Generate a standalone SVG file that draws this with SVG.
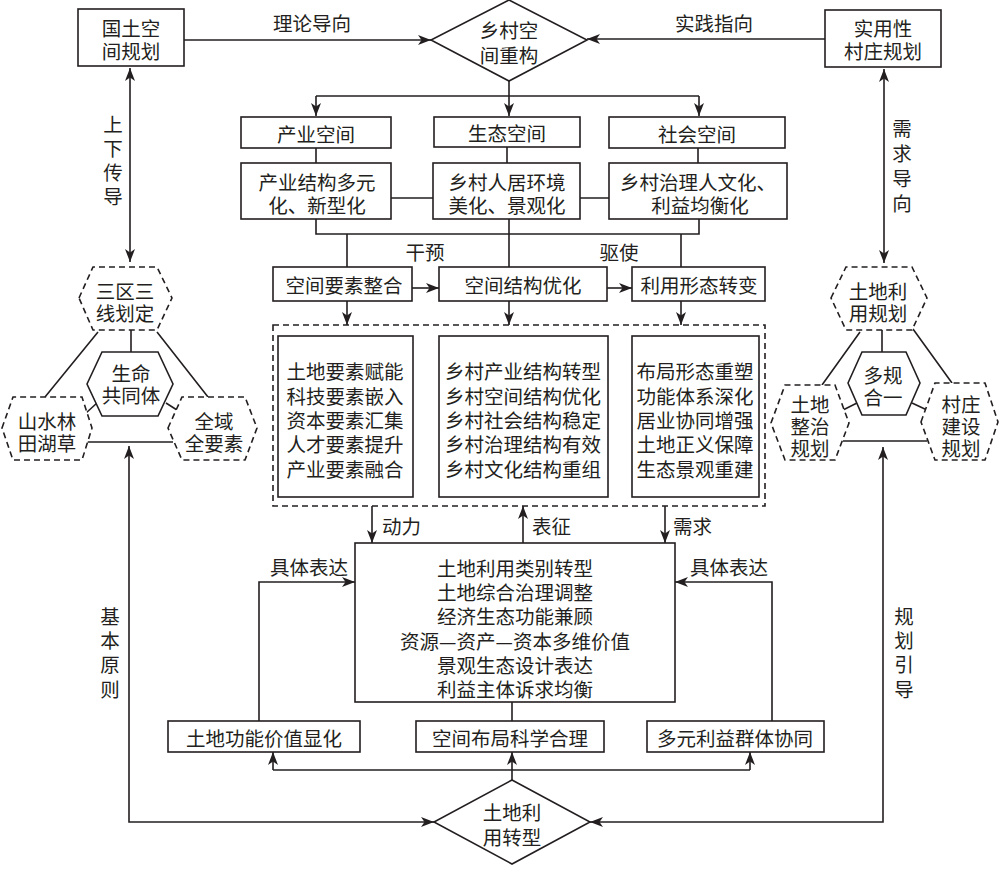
<svg xmlns="http://www.w3.org/2000/svg" width="1000" height="869" viewBox="0 0 1000 869">
<defs>
<style>
.t{font-family:"Noto Sans CJK SC","Noto Sans CJK JP",sans-serif;font-size:19.5px;fill:#231f20;text-anchor:middle;dominant-baseline:central}
.s{text-anchor:start}
.b{fill:#fff;stroke:#231f20;stroke-width:1.6}
.d{fill:#fff;stroke:#231f20;stroke-width:1.6;stroke-dasharray:6 4}
.c{fill:none;stroke:#231f20;stroke-width:1.6}
.m{marker-end:url(#a)}
.mm{marker-end:url(#a);marker-start:url(#a)}
</style>
<marker id="a" viewBox="0 0 13 10" refX="13" refY="5" markerWidth="13" markerHeight="10" markerUnits="userSpaceOnUse" orient="auto-start-reverse">
<path d="M0,0 L13,5 L0,10 L3.5,5 z" fill="#231f20"/>
</marker>
</defs>
<rect width="1000" height="869" fill="#fff"/>

<g id="connectors">
<path class="c m" d="M184,40 H431"/>
<path class="c m" d="M825,39 H587"/>
<path class="c mm" d="M130,68 V262"/>
<path class="c mm" d="M884,69 V263"/>
<path class="c m" d="M509,81 V116"/>
<path class="c" d="M316,96 H699"/>
<path class="c m" d="M316,96 V116"/>
<path class="c m" d="M699,96 V116"/>
<path class="c" d="M316,148 V163 M507,147 V163 M698,148 V163"/>
<path class="c" d="M391,198 H433 M580,198 H609"/>
<path class="c" d="M316,219 V234 H699 V219 M509,219 V267 M347,234 V267 M681,234 V267"/>
<path class="c m" d="M412,288 H439"/>
<path class="c m" d="M607,288 H632"/>
<path class="c m" d="M347,301 V325"/>
<path class="c m" d="M509,301 V325"/>
<path class="c m" d="M681,301 V325"/>
<path class="c m" d="M372,506 V543"/>
<path class="c m" d="M523,543 V506"/>
<path class="c m" d="M665,506 V543"/>
<path class="c m" d="M259,721 V582 H355"/>
<path class="c m" d="M772,721 V582 H675"/>
<path class="c" d="M512,702 V721"/>
<path class="c" d="M273,770 H750"/>
<path class="c m" d="M512,780 V752"/>
<path class="c m" d="M273,770 V752"/>
<path class="c m" d="M750,770 V752"/>
<path class="c mm" d="M129,446 V822 H434"/>
<path class="c mm" d="M883,447 V822 H590"/>
<path class="c" d="M131,330 V352 M98,332 L45,397 M157,332 L208,397 M97,403 L86,413 M166,403 L177,410 M87,442 H173"/>
<path class="c" d="M882,330 V352 M860,332 L822,385 M913,329 L952,383 M857,403 L843,410 M912,403 L927,410 M843,441 H927"/>
</g>

<g id="labels">
<text class="t" x="312" y="22">理论导向</text>
<text class="t" x="714" y="22">实践指向</text>
<text class="t" x="425" y="251">干预</text>
<text class="t" x="619" y="251">驱使</text>
<text class="t s" x="382" y="525">动力</text>
<text class="t s" x="532" y="525">表征</text>
<text class="t s" x="673" y="525">需求</text>
<text class="t" x="309" y="566">具体表达</text>
<text class="t" x="729" y="566">具体表达</text>
<text class="t"><tspan x="113" y="123">上</tspan><tspan x="113" y="147">下</tspan><tspan x="113" y="171">传</tspan><tspan x="113" y="195">导</tspan></text>
<text class="t"><tspan x="902" y="127">需</tspan><tspan x="902" y="152">求</tspan><tspan x="902" y="177">导</tspan><tspan x="902" y="202">向</tspan></text>
<text class="t"><tspan x="110" y="615">基</tspan><tspan x="110" y="639">本</tspan><tspan x="110" y="663">原</tspan><tspan x="110" y="688">则</tspan></text>
<text class="t"><tspan x="904" y="615">规</tspan><tspan x="904" y="639">划</tspan><tspan x="904" y="663">引</tspan><tspan x="904" y="688">导</tspan></text>
</g>

<g id="guotu">
<rect class="b" x="78" y="9" width="106" height="57"/>
<text class="t"><tspan x="131" y="27">国土空</tspan><tspan x="131" y="50">间规划</tspan></text>
</g>
<g id="shiyong">
<rect class="b" x="825" y="10" width="116" height="57"/>
<text class="t"><tspan x="883" y="27">实用性</tspan><tspan x="883" y="50">村庄规划</tspan></text>
</g>
<g id="chonggou">
<polygon class="b" points="509,0 587,40 509,81 431,40"/>
<text class="t"><tspan x="509" y="29">乡村空</tspan><tspan x="509" y="54">间重构</tspan></text>
</g>

<g id="chanye">
<rect class="b" x="241" y="117" width="150" height="31"/>
<text class="t" x="316" y="133">产业空间</text>
</g>
<g id="shengtai">
<rect class="b" x="434" y="117" width="146" height="30"/>
<text class="t" x="507" y="132">生态空间</text>
</g>
<g id="shehui">
<rect class="b" x="609" y="117" width="176" height="31"/>
<text class="t" x="697" y="133">社会空间</text>
</g>
<g id="chanye2">
<rect class="b" x="241" y="163" width="150" height="56"/>
<text class="t"><tspan x="317" y="181">产业结构多元</tspan><tspan x="317" y="204">化、新型化</tspan></text>
</g>
<g id="shengtai2">
<rect class="b" x="433" y="163" width="147" height="56"/>
<text class="t"><tspan x="507" y="181">乡村人居环境</tspan><tspan x="507" y="204">美化、景观化</tspan></text>
</g>
<g id="shehui2">
<rect class="b" x="609" y="163" width="178" height="56"/>
<text class="t"><tspan x="698" y="181">乡村治理人文化、</tspan><tspan x="700" y="204">利益均衡化</tspan></text>
</g>

<g id="zhenghe">
<rect class="b" x="273" y="267" width="139" height="34"/>
<text class="t" x="344" y="284">空间要素整合</text>
</g>
<g id="youhua">
<rect class="b" x="439" y="267" width="168" height="34"/>
<text class="t" x="523" y="284">空间结构优化</text>
</g>
<g id="zhuanbian">
<rect class="b" x="632" y="267" width="133" height="34"/>
<text class="t" x="699" y="284">利用形态转变</text>
</g>

<g id="group">
<rect class="d" x="273" y="325" width="492" height="181"/>
<rect class="b" x="278" y="336" width="135" height="161"/>
<rect class="b" x="439" y="336" width="169" height="161"/>
<rect class="b" x="632" y="336" width="127" height="161"/>
<text class="t"><tspan x="345" y="370">土地要素赋能</tspan><tspan x="345" y="395">科技要素嵌入</tspan><tspan x="345" y="419">资本要素汇集</tspan><tspan x="345" y="443">人才要素提升</tspan><tspan x="345" y="468">产业要素融合</tspan></text>
<text class="t"><tspan x="523" y="370">乡村产业结构转型</tspan><tspan x="523" y="395">乡村空间结构优化</tspan><tspan x="523" y="419">乡村社会结构稳定</tspan><tspan x="523" y="443">乡村治理结构有效</tspan><tspan x="523" y="468">乡村文化结构重组</tspan></text>
<text class="t"><tspan x="695" y="370">布局形态重塑</tspan><tspan x="695" y="395">功能体系深化</tspan><tspan x="695" y="419">居业协同增强</tspan><tspan x="695" y="443">土地正义保障</tspan><tspan x="695" y="468">生态景观重建</tspan></text>
</g>

<g id="center">
<rect class="b" x="355" y="543" width="320" height="159"/>
<text class="t"><tspan x="515" y="567">土地利用类别转型</tspan><tspan x="515" y="591">土地综合治理调整</tspan><tspan x="515" y="615">经济生态功能兼顾</tspan><tspan x="515" y="640">资源—资产—资本多维价值</tspan><tspan x="515" y="664">景观生态设计表达</tspan><tspan x="515" y="688">利益主体诉求均衡</tspan></text>
</g>

<g id="gongneng">
<rect class="b" x="168" y="721" width="192" height="31"/>
<text class="t" x="264" y="737">土地功能价值显化</text>
</g>
<g id="buju">
<rect class="b" x="416" y="721" width="188" height="31"/>
<text class="t" x="510" y="737">空间布局科学合理</text>
</g>
<g id="xietong">
<rect class="b" x="647" y="721" width="177" height="31"/>
<text class="t" x="735" y="737">多元利益群体协同</text>
</g>
<g id="zhuanxing">
<polygon class="b" points="512,780 590,822 512,864 434,822"/>
<text class="t"><tspan x="512" y="811">土地利</tspan><tspan x="512" y="836">用转型</tspan></text>
</g>

<g id="sanqu">
<polygon class="d" points="79,298 93,267 157,267 172,298 157,330 93,330"/>
<text class="t"><tspan x="125" y="290">三区三</tspan><tspan x="125" y="312">线划定</tspan></text>
</g>
<g id="shengming">
<polygon class="b" points="87,384 102,352 158,352 173,384 158,416 102,416"/>
<text class="t"><tspan x="131" y="372">生命</tspan><tspan x="131" y="394">共同体</tspan></text>
</g>
<g id="shanshui">
<polygon class="d" points="2,428 13,397 82,397 92,428 82,460 13,460"/>
<text class="t"><tspan x="47" y="420">山水林</tspan><tspan x="47" y="442">田湖草</tspan></text>
</g>
<g id="quanyu">
<polygon class="d" points="168,428 182,397 245,397 257,428 245,460 182,460"/>
<text class="t"><tspan x="214" y="420">全域</tspan><tspan x="214" y="442">全要素</tspan></text>
</g>

<g id="tudiliyong">
<polygon class="d" points="831,298 846,267 912,267 927,298 912,330 846,330"/>
<text class="t"><tspan x="878" y="290">土地利</tspan><tspan x="878" y="312">用规划</tspan></text>
</g>
<g id="duogui">
<polygon class="b" points="848,383 862,352 906,352 920,383 906,415 862,415"/>
<text class="t"><tspan x="883" y="374">多规</tspan><tspan x="883" y="396">合一</tspan></text>
</g>
<g id="zhengzhi">
<polygon class="d" points="771,423 785,385 835,385 849,423 835,460 785,460"/>
<text class="t"><tspan x="810" y="403">土地</tspan><tspan x="810" y="425">整治</tspan><tspan x="810" y="447">规划</tspan></text>
</g>
<g id="cunzhuang">
<polygon class="d" points="921,422 935,383 985,383 998,422 985,460 935,460"/>
<text class="t"><tspan x="961" y="403">村庄</tspan><tspan x="961" y="425">建设</tspan><tspan x="961" y="447">规划</tspan></text>
</g>
</svg>
